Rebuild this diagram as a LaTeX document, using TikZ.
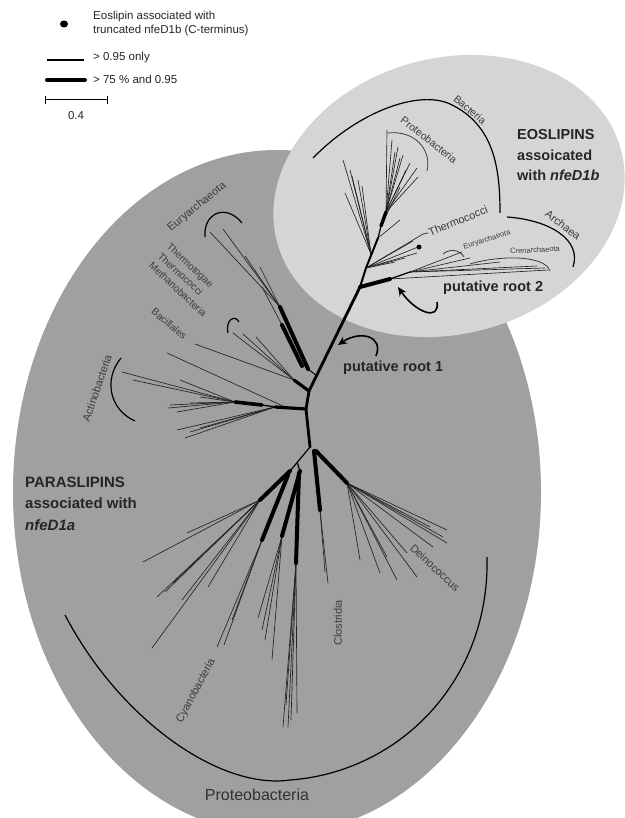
\documentclass[tikz,border=0pt]{standalone}
\usepackage{fontspec}
\setmainfont{Liberation Sans}
\usetikzlibrary{arrows.meta}
\definecolor{darkfill}{RGB}{160,160,160}
\definecolor{lightfill}{RGB}{213,213,213}
\definecolor{labelgray}{RGB}{60,60,60}
\definecolor{treecol}{RGB}{35,35,35}
\begin{document}
\begin{tikzpicture}[x=1pt,y=-1pt,
  br/.style={draw=treecol,line width=0.65pt},
  tk/.style={draw=black,line width=4pt,line cap=round},
  bb/.style={draw=black,line width=2.8pt,line cap=round,line join=round},
  brk/.style={draw=black,line width=1.2pt},
  sbrk/.style={draw=labelgray,line width=0.8pt},
  clade/.style={text=labelgray,font=\fontsize{11}{12}\selectfont,inner sep=0pt},
  small/.style={text=labelgray,font=\fontsize{7.5}{8}\selectfont,inner sep=0pt},
  big/.style={font=\fontsize{14.5}{16}\selectfont\bfseries,text=black!85,inner sep=0pt,anchor=west},
  leg/.style={font=\fontsize{11.5}{13}\selectfont,text=black!85,inner sep=0pt,anchor=west},
  arr/.style={draw=black,line width=1.6pt,-{Stealth[length=9pt,width=8pt]}}
]
\useasboundingbox (0,0) rectangle (624,818);
\fill[white] (0,0) rectangle (624,818);
% background ellipses
\fill[darkfill] (277,492) ellipse [x radius=264pt, y radius=342pt];
\fill[lightfill, rotate around={15:(449,196)}] (449,196) ellipse [x radius=178pt, y radius=138pt];

% ---------------- legend ----------------
\fill[black] (64,24) ellipse [x radius=4pt, y radius=3.5pt];
\node[leg] (l1) at (93,17) {Eoslipin associated with};
\node[leg] (l2) at (93,31) {truncated nfeD1b (C-terminus)};
\coordinate (la) at (47,60); \coordinate (lb) at (84,60);
\draw[black,line width=1.3pt] (la) -- (lb);
\node[leg] (l3) at (93,58) {> 0.95 only};
\coordinate (lc) at (47,80); \coordinate (ld) at (85,80);
\draw[tk] (lc) -- (ld);
\node[leg] (l4) at (93,79) {> 75 \% and 0.95};
\coordinate (sa) at (45,100); \coordinate (sb) at (107,100);
\draw[black,line width=1pt] (sa) -- (sb);
\draw[black,line width=1pt] (45,96) -- (45,104) (107,96) -- (107,104);
\node[leg,anchor=center] (l5) at (76,116) {0.4};

% ---------------- tree: junctions ----------------
\coordinate (R2) at (360,287);
\coordinate (R2a) at (390,279);
\coordinate (R2b) at (410,272);
\coordinate (E1) at (366,268);
\coordinate (E2) at (378,238);
\coordinate (E3) at (381,226);
\coordinate (E4) at (386,212);
\coordinate (E5) at (371,254);
\coordinate (J1) at (309,391);
\coordinate (J2) at (306,409);
\coordinate (J3) at (310,447);
\coordinate (V) at (308,369);
\coordinate (M) at (294,380);
\coordinate (A1) at (275,407);
\coordinate (A2) at (262,405);
\coordinate (A3) at (235,402);
\coordinate (L1) at (290,471);
\coordinate (L2) at (300,471);
\coordinate (C1) at (260,500);
\coordinate (C2) at (262,540);
\coordinate (C3) at (282,536);
\coordinate (C4) at (296,563);
\coordinate (K1) at (320,510);
\coordinate (D1) at (347,483);

% ---------------- eoslipin tree ----------------
\foreach \p in {(387,130),(392,140),(398,147),(403,155),(410,163),(417,168),(418,177),(395,152),(406,170),(400,158)}
  \draw[br] (E4) -- \p;
\draw[br] (E3) -- (400,187);
\draw[br] (E2) -- (400,220);
\foreach \p in {(343,160),(350,170),(352,176),(358,180),(345,193),(362,186)}
  \draw[br] (E5) -- \p;
\foreach \p in {(418,247),(417,253),(413,241),(423,234),(405,258),(395,262)}
  \draw[br] (E1) -- \p;
\foreach \p in {(545,268),(537,266),(470,258),(462,252),(500,262)}
  \draw[br] (R2b) -- \p;
\draw[br] (R2a) -- (548,270);
\fill[black] (419,247) circle [radius=2.5pt];
\draw[tk] (R2) -- (R2a);
\draw[black,line width=1.3pt] (R2a) -- (R2b);
\draw[bb,line width=2pt] (R2) -- (E1) -- (E2);
\draw[black,line width=1.2pt] (E2) -- (E3);
\draw[tk,line width=3.4pt] (E3) -- (E4);

% ---------------- paraslipin tree: upper ----------------
\foreach \p in {(210,232),(223,229),(260,267),(245,256)}
  \draw[br] (280,307) -- \p;
\draw[br] (282,325) -- (262,287);
\foreach \p in {(233,333),(243,334),(256,337),(195,344)}
  \draw[br] (M) -- \p;
\draw[br] (285,407) -- (167,353);
\draw[black,line width=1pt] (V) -- (317,376);
\draw[tk] (V) -- (280,307);
\draw[tk] (302,366) -- (282,325);
\draw[tk,line width=3.2pt] (J1) -- (M);

% actinobacteria
\foreach \p in {(122,372),(133,380),(180,380),(170,405),(168,408),(177,412),(200,397),(190,403)}
  \draw[br] (A3) -- \p;
\foreach \p in {(177,430),(185,438),(200,428),(190,432)}
  \draw[br] (A1) -- \p;
\draw[tk,line width=3.2pt] (J2) -- (A1);
\draw[black,line width=1.3pt] (A1) -- (A2);
\draw[tk,line width=3.6pt] (A2) -- (A3);

% ---------------- lower ----------------
\foreach \p in {(143,562),(157,597),(173,583),(187,533),(152,648),(208,587),(165,592),(182,600)}
  \draw[br] (C1) -- \p;
\foreach \p in {(217,647),(224,645),(232,620)}
  \draw[br] (C2) -- \p;
\foreach \p in {(258,618),(272,660),(265,640),(262,630)}
  \draw[br] (C3) -- \p;
\foreach \p in {(283,727),(288,727),(297,713),(291,720),(286,705)}
  \draw[br] (C4) -- \p;
\foreach \p in {(328,583),(325,572)}
  \draw[br] (K1) -- \p;
\foreach \p in {(447,530),(447,543),(443,537),(430,527),(417,577),(397,580),(380,573),(360,560),(387,557),(407,553),(433,547)}
  \draw[br] (D1) -- \p;
\draw[black,line width=1.2pt] (J3) -- (L1);
\draw[black,line width=1.2pt] (297,462) -- (L2);
\draw[tk] (L1) -- (C1);
\draw[tk] (288,475) -- (C2);
\draw[tk] (L2) -- (C3);
\draw[tk] (299,473) -- (C4);
\draw[tk] (314,451) -- (K1);
\draw[tk] (316,451) -- (D1);

% backbone
\draw[bb] (R2) -- (J1) -- (J2) -- (J3);

% ---------------- brackets ----------------
\draw[brk] (65,615) .. controls (120,720) and (220,790) .. (290,780) .. controls (400,772) and (490,680) .. (487,557);
\draw[brk] (313,158) .. controls (360,110) and (420,90) .. (450,104) .. controls (495,125) and (500,170) .. (500,213);
\draw[brk] (507,217) .. controls (550,220) and (582,240) .. (573,267);
\draw[sbrk] (388,133) .. controls (415,130) and (432,150) .. (427,171);
\draw[sbrk] (443,254) .. controls (450,248) and (460,250) .. (464,257);
\draw[sbrk] (470,264) .. controls (500,255) and (545,255) .. (550,271);
\draw[brk] (205,237) .. controls (203,213) and (226,203) .. (242,223);
\draw[brk] (228,333) .. controls (225,320) and (235,314) .. (239,322);
\draw[brk] (121,358) .. controls (103,380) and (110,410) .. (135,421);

% ---------------- labels ----------------
\node[clade,font=\fontsize{10.5}{12}\selectfont,rotate=-40] (tBac) at (470,110) {Bacteria};
\node[clade,font=\fontsize{10.5}{12}\selectfont,rotate=-38] (tPro1) at (429,140) {Proteobacteria};
\node[clade,rotate=-37] (tArc) at (563,225) {Archaea};
\node[clade,rotate=22] (tThc) at (458,221) {Thermococci};
\draw[br] (423,234) -- (tThc.west);
\node[small,rotate=18] (tEu1) at (487,240) {Euryarchaeota};
\node[small,rotate=3] (tCre) at (535,250) {Crenarchaeota};
\node[clade,rotate=39] (tEu2) at (197,207) {Euryarchaeota};
\node[clade,font=\fontsize{10}{13}\selectfont,rotate=-43,anchor=north west,align=left] (tTt) at (171,242) {Thermotogae\\Thermococci\\Methanobacteria};
\node[clade,font=\fontsize{10}{12}\selectfont,rotate=-40,anchor=west] (tBcl) at (153,310) {Bacillales};
\node[clade,rotate=71] (tAct) at (97,388) {Actinobacteria};
\node[clade,rotate=62] (tCya) at (196,691) {Cyanobacteria};
\node[clade,rotate=90] (tClo) at (338,623) {Clostridia};
\node[clade,rotate=-43] (tDei) at (435,568) {Deinococcus};
\node[clade,font=\fontsize{16}{18}\selectfont,text=black!80] (tPro2) at (257,795) {Proteobacteria};

\node[big] (b1) at (517,135) {EOSLIPINS};
\node[big] (b2) at (517,155) {assoicated};
\node[big] (b3) at (517,175) {with \textit{nfeD1b}};
\node[big,font=\fontsize{15}{17}\selectfont\bfseries] (p1) at (25,482) {PARASLIPINS};
\node[big,font=\fontsize{15}{17}\selectfont\bfseries] (p2) at (25,503) {associated with};
\node[big,font=\fontsize{15}{17}\selectfont\bfseries] (p3) at (25,525) {\textit{nfeD1a}};
\node[big] (r1) at (343,368) {putative root 1};
\node[big] (r2) at (443,288) {putative root 2};

\coordinate (a1s) at (376,356); \coordinate (a1e) at (338,345);
\draw[arr] (a1s) .. controls (384,336) and (360,330) .. (a1e);
\coordinate (a2s) at (437,302); \coordinate (a2e) at (398,287);
\draw[arr] (a2s) .. controls (440,322) and (415,312) .. (a2e);
\end{tikzpicture}
\end{document}
